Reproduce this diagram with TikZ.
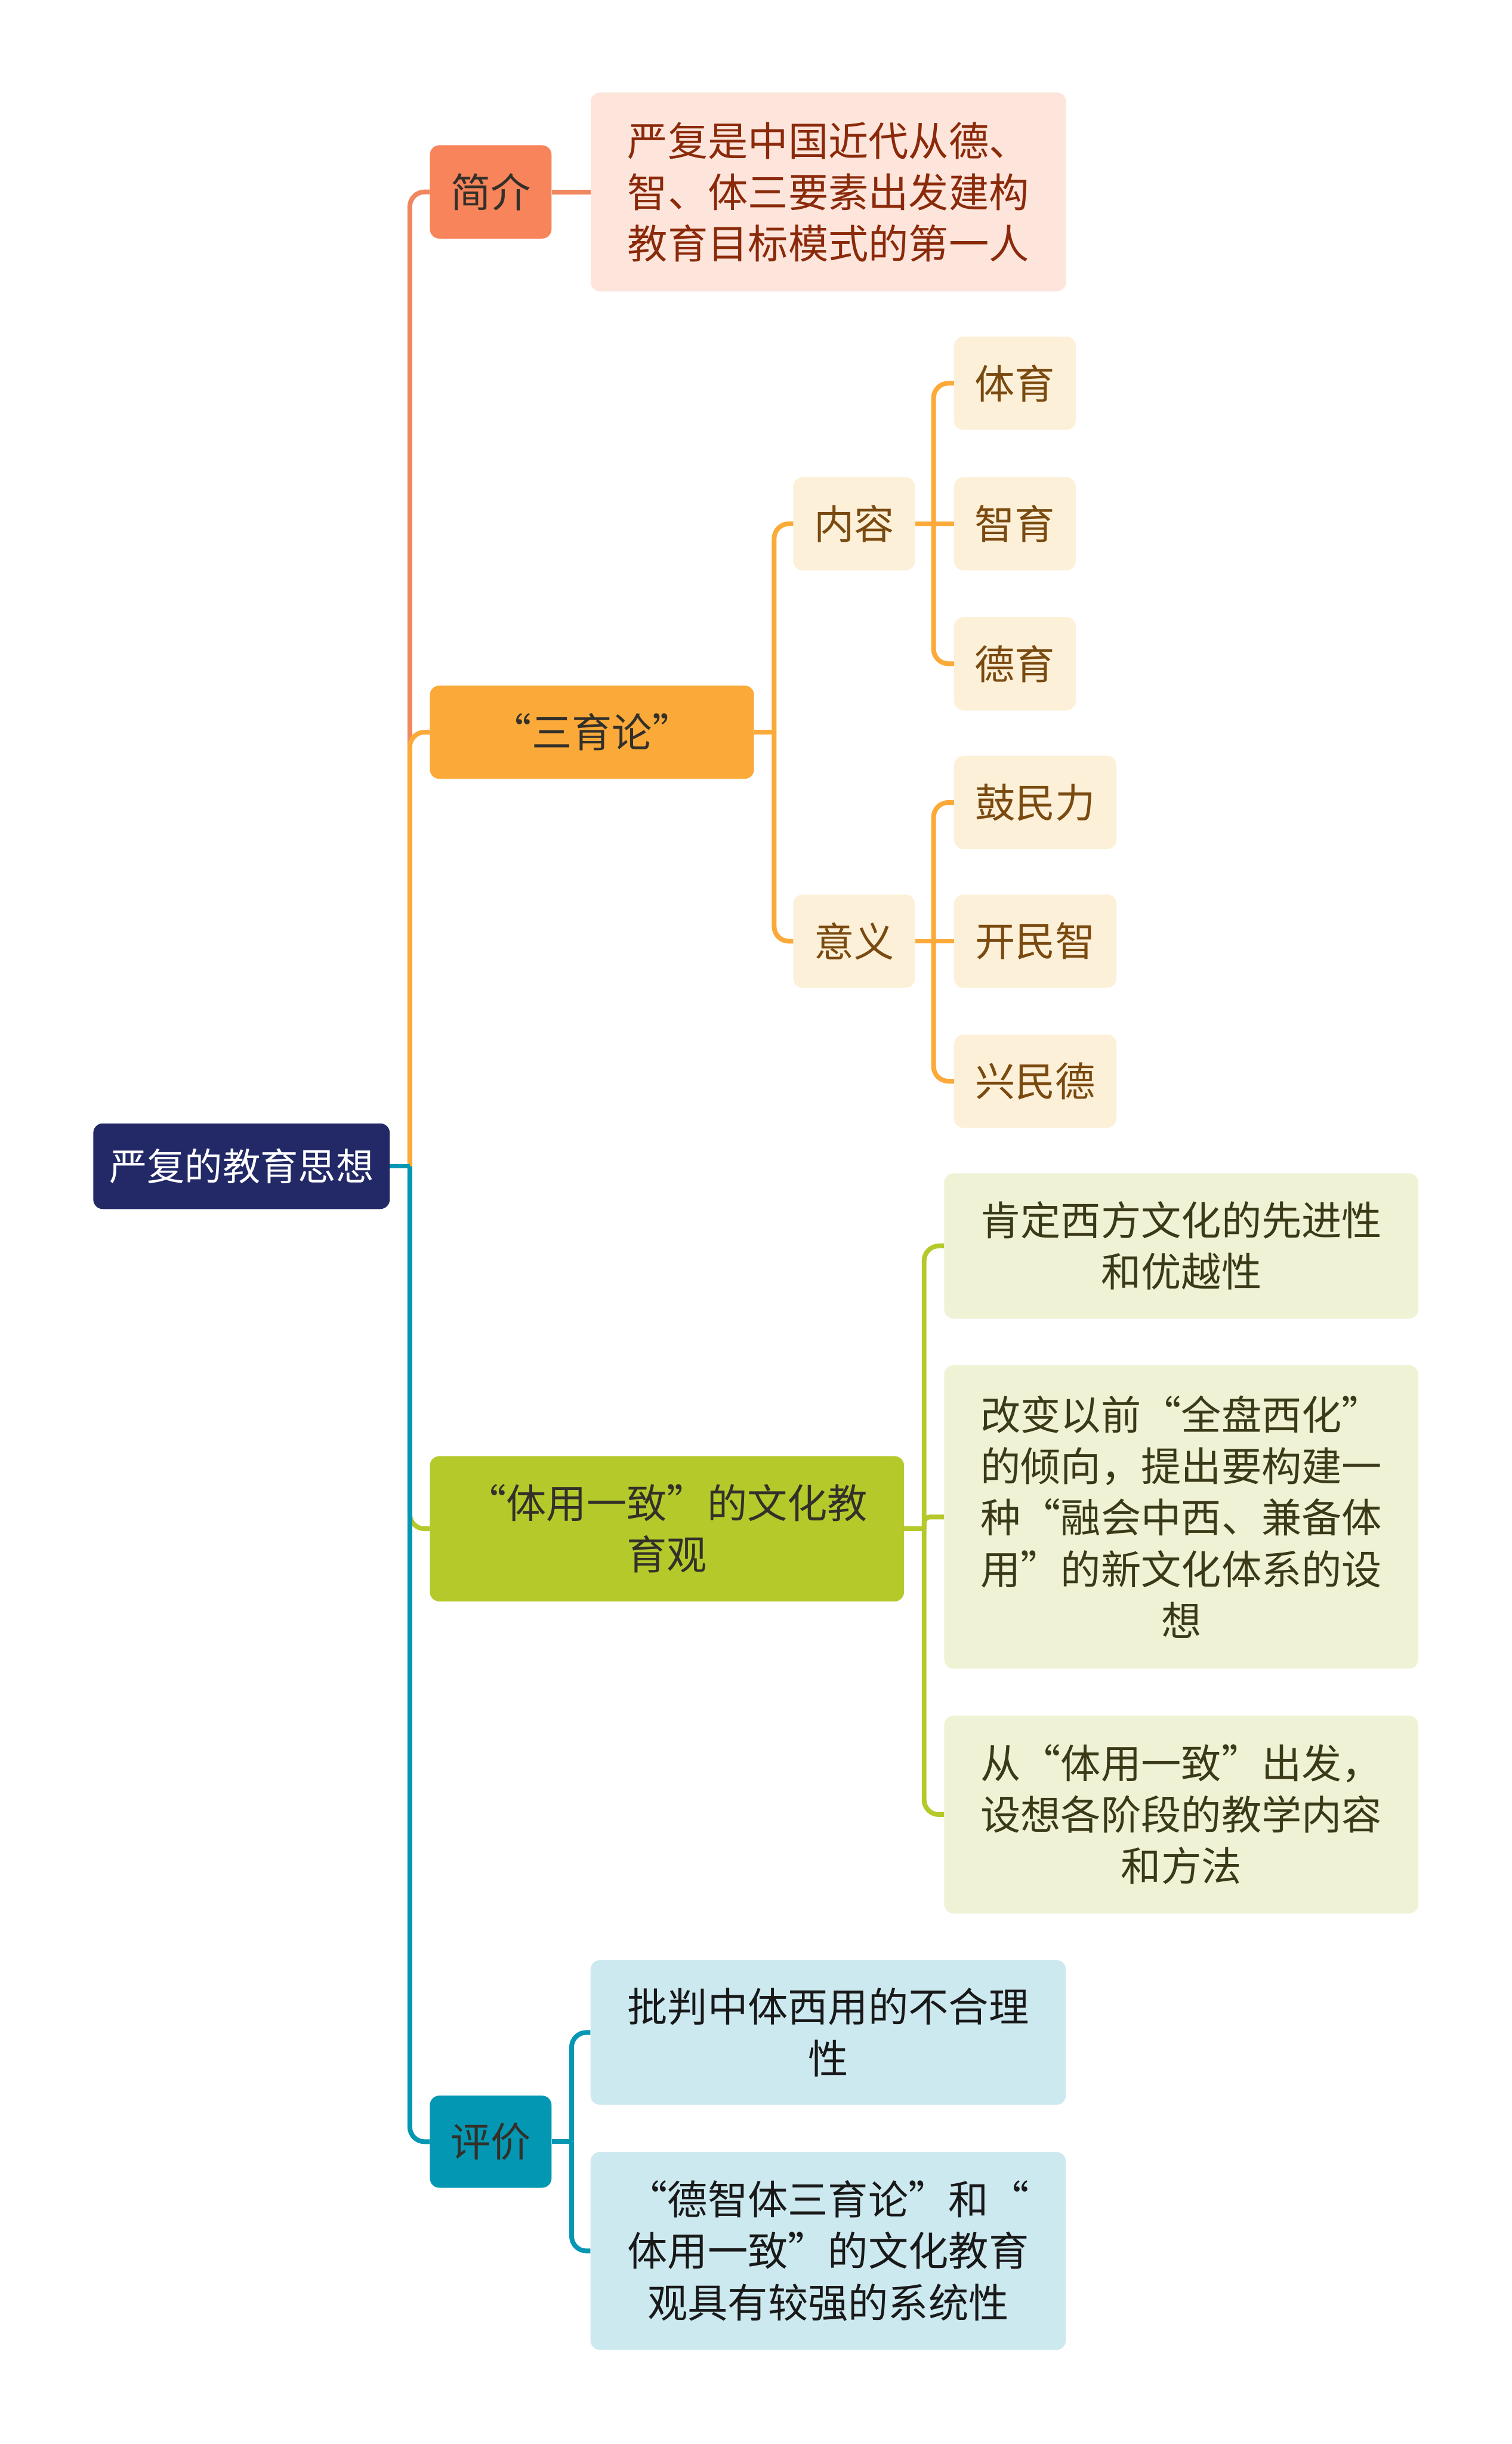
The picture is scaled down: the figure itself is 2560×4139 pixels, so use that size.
\documentclass[tikz,border=0pt]{standalone}
\usepackage{fontspec}
\newfontfamily\cjkfont{Noto Sans CJK SC}
\usepackage{xcolor}
\usetikzlibrary{positioning}

\definecolor{rootblue}{HTML}{222966}
\definecolor{jjmain}{HTML}{F7845A}
\definecolor{jjline}{HTML}{F0875E}
\definecolor{jjfill}{HTML}{FDE5DC}
\definecolor{jjtext}{HTML}{8B2A0A}
\definecolor{symain}{HTML}{FBAA3A}
\definecolor{syfill}{HTML}{FDF0D8}
\definecolor{sytext}{HTML}{7A4A10}
\definecolor{tymain}{HTML}{B5C92B}
\definecolor{tyfill}{HTML}{F0F2D6}
\definecolor{tytext}{HTML}{3A3A18}
\definecolor{pjmain}{HTML}{0497B4}
\definecolor{pjfill}{HTML}{CDE9F0}
\definecolor{darktext}{HTML}{33302A}

\begin{document}
\begin{tikzpicture}[
    x=1pt, y=-1pt,
    font=\cjkfont\fontsize{68}{87}\selectfont,
    base/.style={rectangle, rounded corners=16pt, inner sep=0pt, align=center},
    rootbox/.style={base, fill=rootblue, text=white, minimum width=502pt,
                    minimum height=145pt, font=\cjkfont\fontsize{64}{80}\selectfont},
    topic/.style={base, text=darktext, minimum height=158pt},
    jjleaf/.style={base, fill=jjfill, text=jjtext, minimum width=805pt},
    syleaf/.style={base, fill=syfill, text=sytext, minimum width=206pt,
                   minimum height=158pt},
    tyleaf/.style={base, fill=tyfill, text=tytext, minimum width=803pt},
    pjleaf/.style={base, fill=pjfill, text=black!90, minimum width=805pt},
    link/.style={line width=8pt, rounded corners=25pt},
    jjlink/.style={link, draw=jjline},
    sylink/.style={link, draw=symain},
    tylink/.style={link, draw=tymain},
    pjlink/.style={link, draw=pjmain}
]

    \path[use as bounding box, fill=white] (0,0) rectangle (2560,4139);

    \node[rootbox] (root) at (409,1975) {严复的教育思想};

    \node[topic, fill=jjmain, minimum width=206pt] (jianjie) at (831,325) {简介};
    \node[jjleaf, minimum height=337pt, right=66pt of jianjie] (jjintro)
        {严复是中国近代从德、\\智、体三要素出发建构\\教育目标模式的第一人};

    \node[topic, fill=symain, minimum width=549pt] (sanyu) at (1002.5,1240) {“三育论”};
    \node[syleaf, right=66pt of sanyu, yshift=353pt]  (neirong) {内容};
    \node[syleaf, right=66pt of sanyu, yshift=-354pt] (yiyi)    {意义};
    \node[syleaf, right=66pt of neirong, yshift=238pt]  (tiyu)  {体育};
    \node[syleaf, right=66pt of neirong]                (zhiyu) {智育};
    \node[syleaf, right=66pt of neirong, yshift=-237pt] (deyu)  {德育};
    \node[syleaf, minimum width=275pt, right=66pt of yiyi, yshift=235pt]  (minli)  {鼓民力};
    \node[syleaf, minimum width=275pt, right=66pt of yiyi]                (minzhi) {开民智};
    \node[syleaf, minimum width=275pt, right=66pt of yiyi, yshift=-237pt] (minde)  {兴民德};

    \node[topic, fill=tymain, minimum width=803pt, minimum height=246pt] (tiyong)
        at (1129.5,2589) {“体用一致”的文化教\\育观};
    \node[tyleaf, minimum height=246pt] (kending) at (2000.5,2110)
        {肯定西方文化的先进性\\和优越性};
    \node[tyleaf, minimum height=514pt] (gaibian) at (2000.5,2569)
        {改变以前“全盘西化”\\的倾向，提出要构建一\\种“融会中西、兼备体\\用”的新文化体系的设\\想};
    \node[tyleaf, minimum height=335pt] (cong) at (2000.5,3073)
        {从“体用一致”出发，\\设想各阶段的教学内容\\和方法};

    \node[topic, fill=pjmain, minimum width=206pt, minimum height=156pt] (pingjia)
        at (831,3627) {评价};
    \node[pjleaf, minimum height=245pt] (pipan) at (1402.5,3442)
        {批判中体西用的不合理\\性};
    \node[pjleaf, minimum height=335pt] (xitong) at (1402.5,3812)
        {“德智体三育论”和“\\体用一致”的文化教育\\观具有较强的系统性};

    \coordinate (rootfork)  at (694,1975);
    \coordinate (syfork)    at (1311,1240);
    \coordinate (nrfork)    at (1581,887);
    \coordinate (yyfork)    at (1581,1594);
    \coordinate (tyfork)    at (1565,2589);
    \coordinate (pjfork)    at (968,3627);

    \draw[jjlink] (rootfork) |- (jianjie.west);
    \draw[sylink] (rootfork) |- (sanyu.west);
    \draw[tylink] (rootfork) |- (tiyong.west);
    \draw[pjlink] (rootfork) |- (pingjia.west);
    \draw[pjlink] (root.east) -- (rootfork);

    \draw[jjlink] (jianjie.east) -- (jjintro.west);

    \draw[sylink] (sanyu.east) -- (syfork);
    \draw[sylink] (syfork) |- (neirong.west);
    \draw[sylink] (syfork) |- (yiyi.west);
    \draw[sylink] (neirong.east) -- (zhiyu.west);
    \draw[sylink] (nrfork) |- (tiyu.west);
    \draw[sylink] (nrfork) |- (deyu.west);
    \draw[sylink] (yiyi.east) -- (minzhi.west);
    \draw[sylink] (yyfork) |- (minli.west);
    \draw[sylink] (yyfork) |- (minde.west);

    \draw[tylink] (tiyong.east) -- (tyfork);
    \draw[tylink] (tyfork) |- (kending.west);
    \draw[tylink, rounded corners=10pt] (tyfork) |- (gaibian.west);
    \draw[tylink] (tyfork) |- (cong.west);

    \draw[pjlink] (pingjia.east) -- (pjfork);
    \draw[pjlink] (pjfork) |- (pipan.west);
    \draw[pjlink] (pjfork) |- (xitong.west);

\end{tikzpicture}
\end{document}
